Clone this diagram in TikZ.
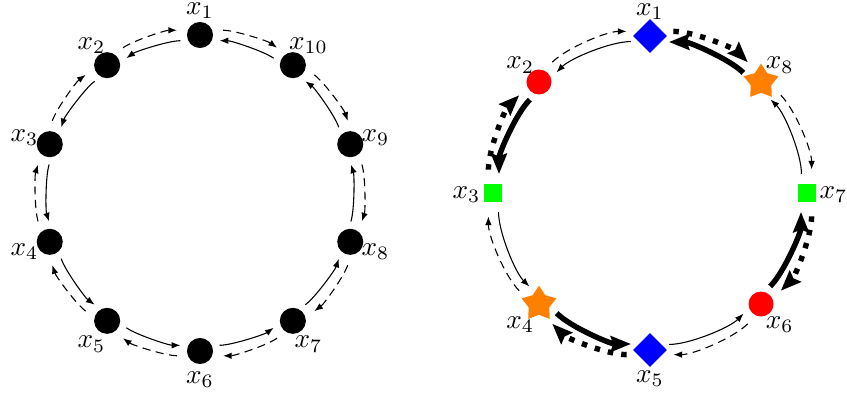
\documentclass[tikz,border=0pt]{standalone}
\usetikzlibrary{arrows.meta,shapes.geometric}
\tikzset{
  blackdot/.style={circle, fill=black, minimum size=9.6pt, inner sep=0pt},
  rcirc/.style={circle, fill=red, minimum size=9.2pt, inner sep=0pt},
  bdiam/.style={diamond, fill=blue, minimum size=12.5pt, inner sep=0pt},
  gsq/.style={rectangle, fill=green, minimum size=6.6pt, inner sep=0pt},
  ostar/.style={star, star points=5, star point ratio=1.7, fill=orange, minimum size=13.5pt, inner sep=0pt},
  lbl/.style={inner sep=0pt, anchor=center, yshift=-0.7pt},
  thinsolid/.style={-{Latex[length=3.2pt,width=2.4pt]}, shorten <=7.9pt, shorten >=7.9pt},
  thindash/.style={-{Latex[length=3.2pt,width=2.4pt]}, dash pattern=on 3pt off 2pt, shorten <=7.9pt, shorten >=7.9pt},
  thicksolid/.style={-{Stealth[length=7.5pt,width=5.8pt,inset=1pt]}, line width=2pt, shorten <=7.9pt, shorten >=7.9pt},
  thickdash/.style={-{Stealth[length=7.5pt,width=5.8pt,inset=1pt]}, line width=2pt, dash pattern=on 2pt off 3pt, shorten <=7.9pt, shorten >=7.9pt},
}
\begin{document}
\begin{tikzpicture}[x=0.368pt,y=0.368pt]
\useasboundingbox (0,0) rectangle (847,394);
% left ring
\begin{scope}[shift={(200,201)}]
\foreach \k in {1,...,10}{
  \pgfmathtruncatemacro\ang{90+36*(\k-1)}
  \node[blackdot] (a\k) at (\ang:158) {};
  \node[lbl] (la\k) at ([shift={(\ang:26.5)}]a\k.center) {$x_{\k}$};
}
\foreach \k in {1,...,10}{
  \pgfmathtruncatemacro\j{mod(\k,10)+1}
  \pgfmathsetmacro\m{108+36*(\k-1)}
  \draw[thinsolid] ([shift={(\m:-6)}]a\k.center) to[bend right=18, looseness=0.87] ([shift={(\m:-6)}]a\j.center);
  \draw[thindash] ([shift={(\m:5)}]a\j.center) to[bend left=18, looseness=0.87] ([shift={(\m:5)}]a\k.center);
}
\end{scope}
% right ring
\begin{scope}[shift={(650,201)}]
\foreach \k/\st in {1/bdiam,2/rcirc,3/gsq,4/ostar,5/bdiam,6/rcirc,7/gsq,8/ostar}{
  \pgfmathtruncatemacro\ang{90+45*(\k-1)}
  \node[\st] (b\k) at (\ang:157) {};
  \node[lbl] (lb\k) at ([shift={(\ang:26.5)}]b\k.center) {$x_{\k}$};
}
\foreach \k in {1,3,5,7}{
  \pgfmathtruncatemacro\j{mod(\k,8)+1}
  \pgfmathsetmacro\m{112.5+45*(\k-1)}
  \draw[thinsolid] ([shift={(\m:-6)}]b\k.center) to[bend right=22.5, looseness=0.885] ([shift={(\m:-6)}]b\j.center);
  \draw[thindash] ([shift={(\m:5)}]b\j.center) to[bend left=22.5, looseness=0.885] ([shift={(\m:5)}]b\k.center);
}
\foreach \k in {2,4,6,8}{
  \pgfmathtruncatemacro\j{mod(\k,8)+1}
  \pgfmathsetmacro\m{112.5+45*(\k-1)}
  \draw[thicksolid] ([shift={(\m:-6.5)}]b\k.center) to[bend right=22.5, looseness=0.885] ([shift={(\m:-6.5)}]b\j.center);
  \draw[thickdash] ([shift={(\m:5)}]b\j.center) to[bend left=22.5, looseness=0.885] ([shift={(\m:5)}]b\k.center);
}
\end{scope}
\end{tikzpicture}
\end{document}
